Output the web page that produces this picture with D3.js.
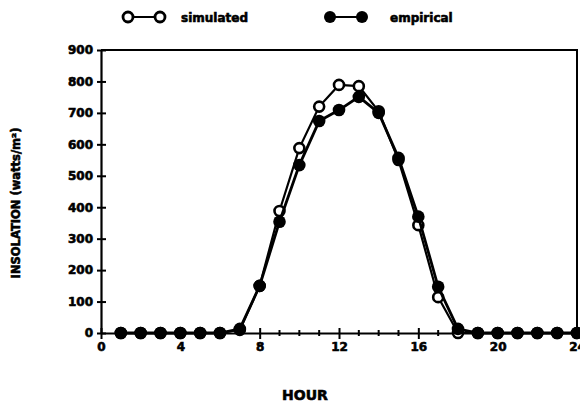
<!DOCTYPE html>
<html>
<head>
<meta charset="utf-8">
<script src="https://cdn.jsdelivr.net/npm/d3@7"></script>
<style>
  html, body { margin: 0; padding: 0; background: #fff; }
  svg { display: block; }
  text { font-family: "DejaVu Sans", "Liberation Sans", sans-serif; font-weight: bold; fill: #000;
         stroke: #000; stroke-width: 0.6px; }
</style>
</head>
<body>
<svg id="chart" width="580" height="402"></svg>
<script>
// Hourly insolation, watts per square metre
const hours = [1, 2, 3, 4, 5, 6, 7, 8, 9, 10, 11, 12, 13, 14, 15, 16, 17, 18, 19, 20, 21, 22, 23, 24];
const simulated = [0, 0, 0, 0, 0, 0, 10, 150, 388, 588, 720, 789, 785, 705, 550, 343, 114, 0, 0, 0, 0, 0, 0, 0];
const empirical = [0, 0, 0, 0, 0, 0, 13, 150, 354, 534, 674, 709, 751, 700, 557, 370, 147, 13, 0, 0, 0, 0, 0, 0];
const xTickLabels = [0, 4, 8, 12, 16, 20, 24];
const yTickLabels = [0, 100, 200, 300, 400, 500, 600, 700, 800, 900];

const svg = d3.select("#chart");
const plotLeft = 101, plotRight = 577, plotTop = 50, plotBottom = 333;

const x = d3.scaleLinear().domain([0, 24]).range([plotLeft, plotRight]);
const y = d3.scaleLinear().domain([0, 900]).range([plotBottom, plotTop]);

// frame: top and right edges
svg.append("path")
  .attr("d", `M${plotLeft},${plotTop}H${plotRight}V${plotBottom}`)
  .attr("fill", "none").attr("stroke", "#000").attr("stroke-width", 2);

// y axis with ticks crossing the line
const yAxis = d3.axisLeft(y).tickValues(yTickLabels).tickSize(0).tickPadding(8);
const gy = svg.append("g").attr("transform", `translate(${plotLeft},0)`).call(yAxis);
gy.select(".domain").attr("stroke-width", 2.2);
gy.selectAll(".tick text").attr("font-size", 12).attr("font-family", "DejaVu Sans").attr("font-weight", "bold");
gy.selectAll(".tick").append("line").attr("x1", -4).attr("x2", 5).attr("stroke", "#000").attr("stroke-width", 2);

// x axis: minor ticks every hour, major every four hours
const xAxis = d3.axisBottom(x).tickValues(xTickLabels).tickSize(0).tickPadding(9);
const gx = svg.append("g").attr("transform", `translate(0,${plotBottom})`).call(xAxis);
gx.select(".domain").attr("stroke-width", 2.2);
gx.selectAll(".tick text").attr("font-size", 12).attr("font-family", "DejaVu Sans").attr("font-weight", "bold");
gx.selectAll(".tick").append("line").attr("y1", -5).attr("y2", 6).attr("stroke", "#000").attr("stroke-width", 2);
gx.selectAll(".minor").data(d3.range(1, 24).filter(h => h % 4 !== 0)).enter()
  .append("line").attr("class", "minor")
  .attr("x1", d => x(d)).attr("x2", d => x(d))
  .attr("y1", -3).attr("y2", 3).attr("stroke", "#000").attr("stroke-width", 2);

// axis titles
svg.append("text").attr("x", 305).attr("y", 400).attr("text-anchor", "middle")
  .attr("font-size", 14).text("HOUR");
svg.append("text").attr("transform", "translate(20,203) rotate(-90)").attr("text-anchor", "middle")
  .attr("font-size", 11.5).text("INSOLATION (watts/m²)");

const line = d3.line().x((d, i) => x(hours[i])).y(d => y(d));

// simulated series (open circles)
svg.append("path").datum(simulated).attr("d", line)
  .attr("fill", "none").attr("stroke", "#000").attr("stroke-width", 2.2);
svg.selectAll(".sim").data(simulated).enter().append("circle").attr("class", "sim")
  .attr("cx", (d, i) => x(hours[i])).attr("cy", d => y(d)).attr("r", 5)
  .attr("fill", "#fff").attr("stroke", "#000").attr("stroke-width", 2.6);

// empirical series (filled circles)
svg.append("path").datum(empirical).attr("d", line)
  .attr("fill", "none").attr("stroke", "#000").attr("stroke-width", 2.8);
svg.selectAll(".emp").data(empirical).enter().append("circle").attr("class", "emp")
  .attr("cx", (d, i) => x(hours[i])).attr("cy", d => y(d)).attr("r", 6.3)
  .attr("fill", "#000");

// legend
const legend = svg.append("g");
legend.append("line").attr("x1", 128).attr("x2", 160).attr("y1", 17).attr("y2", 17)
  .attr("stroke", "#000").attr("stroke-width", 2);
[128, 160].forEach(cx => legend.append("circle").attr("cx", cx).attr("cy", 17).attr("r", 5)
  .attr("fill", "#fff").attr("stroke", "#000").attr("stroke-width", 2.8));
legend.append("text").attr("x", 181).attr("y", 22).attr("font-size", 12).text("simulated");
legend.append("line").attr("x1", 330).attr("x2", 362).attr("y1", 17).attr("y2", 17)
  .attr("stroke", "#000").attr("stroke-width", 2);
[330, 362].forEach(cx => legend.append("circle").attr("cx", cx).attr("cy", 17).attr("r", 6)
  .attr("fill", "#000"));
legend.append("text").attr("x", 390).attr("y", 22).attr("font-size", 12).text("empirical");
</script>
</body>
</html>
